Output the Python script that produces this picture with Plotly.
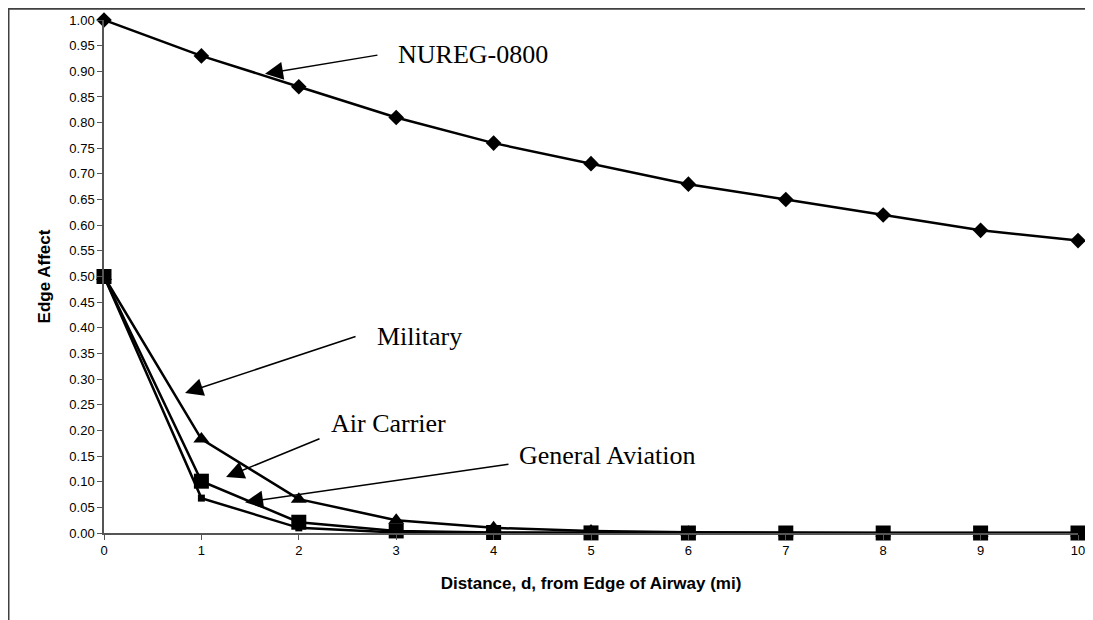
import plotly.graph_objects as go

distance = [0, 1, 2, 3, 4, 5, 6, 7, 8, 9, 10]
nureg_0800 = [1.00, 0.93, 0.87, 0.81, 0.76, 0.72, 0.68, 0.65, 0.62, 0.59, 0.57]
military = [0.50, 0.183, 0.066, 0.025, 0.010, 0.004, 0.0015, 0.0005, 0.0002, 0.0001, 0.0]
air_carrier = [0.50, 0.101, 0.021, 0.004, 0.001, 0.0002, 0.0, 0.0, 0.0, 0.0, 0.0]
general_aviation = [0.50, 0.068, 0.010, 0.001, 0.0002, 0.0, 0.0, 0.0, 0.0, 0.0, 0.0]
y_ticks = [i * 0.05 for i in range(21)]
x_ticks = distance

SANS = "Liberation Sans, Arial, sans-serif"
SERIF = "Liberation Serif, Times New Roman, serif"

W, H = 1093, 620
ML, MR, MT, MB = 96, 23, 12, 95
PW, PH = W - ML - MR, H - MT - MB

fig = go.Figure()
line = dict(color="black", width=2.5)
fig.add_trace(go.Scatter(x=distance, y=nureg_0800, mode="lines+markers", name="NUREG-0800",
                         line=line, marker=dict(symbol="diamond", size=12, color="black"), cliponaxis=False))
fig.add_trace(go.Scatter(x=distance, y=military, mode="lines+markers", name="Military",
                         line=line, marker=dict(symbol="triangle-up", size=14, color="black"), cliponaxis=False))
fig.add_trace(go.Scatter(x=distance, y=general_aviation, mode="lines+markers", name="General Aviation",
                         line=line, marker=dict(symbol="square", size=7, color="black"), cliponaxis=False))
fig.add_trace(go.Scatter(x=distance, y=air_carrier, mode="lines+markers", name="Air Carrier",
                         line=line, marker=dict(symbol="square", size=15, color="black"), cliponaxis=False))

labels = [
    # text, tail x, tail y, head x, head y, text x, text y
    ("NUREG-0800", 2.823, 0.932, 1.653, 0.895, 2.998, 0.932),
    ("Military", 2.598, 0.384, 0.832, 0.273, 2.782, 0.384),
    ("Air Carrier", 2.228, 0.185, 1.253, 0.109, 2.310, 0.2125),
    ("General Aviation", 4.168, 0.1345, 1.448, 0.060, 4.240, 0.152),
]
for text, tx, ty, hx, hy, lx, ly in labels:
    fig.add_annotation(x=hx, y=hy, ax=tx, ay=ty, xref="x", yref="y", axref="x", ayref="y",
                       text="", showarrow=True, arrowhead=2, arrowsize=2.4, arrowwidth=1.5,
                       arrowcolor="black")
    fig.add_annotation(x=lx, y=ly, xref="x", yref="y", text=text, showarrow=False,
                       xanchor="left", yanchor="middle",
                       font=dict(family=SERIF, size=26, color="black"))

# outer frame around the whole chart
fig.add_shape(type="rect", xref="paper", yref="paper",
              x0=(-ML + 0.5) / PW, x1=(PW + MR - 0.5) / PW,
              y0=(-MB + 0.5) / PH, y1=1 + (MT - 0.75) / PH,
              line=dict(color="#404040", width=2), fillcolor="rgba(0,0,0,0)")

fig.update_layout(
    width=W, height=H,
    margin=dict(l=ML, r=MR, t=MT, b=MB),
    paper_bgcolor="white", plot_bgcolor="white",
    showlegend=False,
    font=dict(family=SANS, size=13, color="black"),
)
fig.update_xaxes(range=[0, 10], tickvals=x_ticks, ticktext=[str(v) for v in x_ticks],
                 automargin=False,
                 showgrid=False, zeroline=False, showline=True, linecolor="#555555", linewidth=1.5,
                 ticks="outside", ticklen=5, tickcolor="#555555",
                 tickfont=dict(family=SANS, size=13, color="black"),
                 title=dict(text="<b>Distance, d, from Edge of Airway (mi)</b>",
                            font=dict(family=SANS, size=17, color="black"), standoff=20))
fig.update_yaxes(range=[0, 1], tickvals=y_ticks, ticktext=[f"{v:.2f}" for v in y_ticks],
                 automargin=False,
                 showgrid=False, zeroline=False, showline=True, linecolor="#555555", linewidth=1.5,
                 ticks="outside", ticklen=5, tickcolor="#555555",
                 tickfont=dict(family=SANS, size=13, color="black"),
                 title=dict(text="<b>Edge Affect</b>",
                            font=dict(family=SANS, size=17, color="black"), standoff=14))

fig.write_html("out.html")
